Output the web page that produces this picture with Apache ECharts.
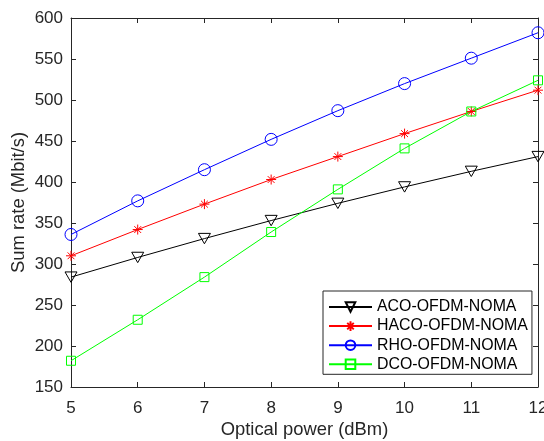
<!DOCTYPE html>
<html>
<head>
<meta charset="utf-8">
<script src="https://cdn.jsdelivr.net/npm/echarts@6/dist/echarts.min.js"></script>
<style>html,body{margin:0;padding:0;background:#fff;}#c{width:544px;height:441px;}</style>
</head>
<body>
<div id="c"></div>
<script>
var xValues = [5, 6, 7, 8, 9, 10, 11, 12];
var acoValues = [284, 308, 331, 353, 374, 394, 413, 431];
var hacoValues = [310, 342, 373, 403, 431, 459, 486, 512];
var rhoValues = [336, 377, 415, 452, 487, 520, 551, 582];
var dcoValues = [182, 232, 284, 339, 391, 441, 486, 524];
var seriesNames = ['ACO-OFDM-NOMA', 'HACO-OFDM-NOMA', 'RHO-OFDM-NOMA', 'DCO-OFDM-NOMA'];

function pairs(ys) { return xValues.map(function (x, i) { return [x, ys[i]]; }); }

var txt = '#262626';
var font = 'Liberation Sans, Arial, Helvetica, sans-serif';
function mk(name, ys, color, symbol, size) {
  return {
    name: name, type: 'line', data: pairs(ys),
    symbol: symbol, symbolSize: size, symbolKeepAspect: true,
    lineStyle: { color: color, width: 1 },
    itemStyle: { color: 'none', borderColor: color, borderWidth: 1 },
    emphasis: { disabled: true },
    z: 3
  };
}
var triDown = 'path://M0,0L10,0L5,8.66Z';
var star = 'path://M5,0L5,10M0,5L10,5M1.6,1.6L8.4,8.4M8.4,1.6L1.6,8.4';

var chart = echarts.init(document.getElementById('c'), null, { renderer: 'canvas' });
chart.setOption({
  animation: false,
  backgroundColor: '#fff',
  textStyle: { fontFamily: font },
  grid: { left: 71, right: 6, top: 18, bottom: 54, containLabel: false, outerBoundsMode: 'none' },
  xAxis: [{
    type: 'value', min: 5, max: 12, interval: 1,
    name: 'Optical power (dBm)', nameLocation: 'middle', nameGap: 33.5, nameMoveOverlap: false,
    nameTextStyle: { fontSize: 18.4, color: txt, fontFamily: font },
    axisLine: { onZero: false, lineStyle: { color: txt, width: 1 } },
    axisTick: { inside: true, length: 5, lineStyle: { color: txt } },
    axisLabel: { fontSize: 17, color: txt, margin: 12.5, fontFamily: font },
    splitLine: { show: false }
  }, {
    type: 'value', min: 5, max: 12, interval: 1, position: 'top',
    axisLine: { onZero: false, lineStyle: { color: txt, width: 1 } },
    axisTick: { inside: true, length: 5, lineStyle: { color: txt } },
    axisLabel: { show: false }, splitLine: { show: false }
  }],
  yAxis: [{
    type: 'value', min: 150, max: 600, interval: 50,
    name: 'Sum rate (Mbit/s)', nameLocation: 'middle', nameGap: 43, nameMoveOverlap: false,
    nameTextStyle: { fontSize: 18.4, color: txt, fontFamily: font },
    axisLine: { show: true, onZero: false, lineStyle: { color: txt, width: 1 } },
    axisTick: { show: true, inside: true, length: 5, lineStyle: { color: txt } },
    axisLabel: { fontSize: 17, color: txt, margin: 8, fontFamily: font },
    splitLine: { show: false }
  }, {
    type: 'value', min: 150, max: 600, interval: 50, position: 'right',
    axisLine: { show: true, onZero: false, lineStyle: { color: txt, width: 1 } },
    axisTick: { show: true, inside: true, length: 5, lineStyle: { color: txt } },
    axisLabel: { show: false }, splitLine: { show: false }
  }],
  legend: {
    orient: 'vertical', left: 323, top: 291,
    padding: [8, 4, 2, 5],
    itemWidth: 43, itemHeight: 12, itemGap: 3.1,
    backgroundColor: '#fff', borderColor: txt, borderWidth: 1, borderRadius: 0,
    textStyle: { fontSize: 15.9, color: '#000', fontFamily: font },
    data: seriesNames
  },
  series: [
    mk(seriesNames[0], acoValues, '#000000', triDown, 12),
    mk(seriesNames[1], hacoValues, '#ff0000', star, 10),
    mk(seriesNames[2], rhoValues, '#0000ff', 'circle', 12),
    mk(seriesNames[3], dcoValues, '#00ff00', 'rect', 9)
  ]
});
</script>
</body>
</html>
